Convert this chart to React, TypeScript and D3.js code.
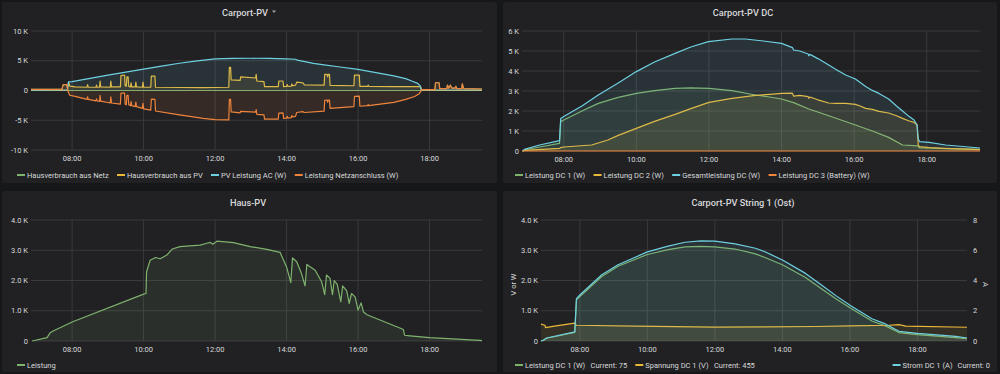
import React, { useEffect, useRef } from 'react';
import * as d3 from 'd3';

type Pt = [string, number];

// time axis shared by all panels
const timeStart = '06:51';
const timeEnd = '19:28';
const timeTicks = ['08:00', '10:00', '12:00', '14:00', '16:00', '18:00'];

// ---- Carport-PV ----
const hausverbrauchAusNetz: Pt[] = [
  ['06:51', 200], ['07:43', 200], ['07:45', 1000], ['07:51', 1000], ['07:53', 0], ['17:46', 0],
  ['17:48', 150], ['18:09', 150], ['18:10', 1300], ['18:16', 1300], ['18:17', 300], ['18:29', 300],
  ['18:30', 900], ['18:32', 400], ['18:35', 900], ['18:37', 400], ['18:43', 400], ['18:44', 700],
  ['18:46', 300], ['18:54', 300], ['18:55', 1100], ['18:57', 300], ['19:28', 250],
];

const hausverbrauchAusPv: Pt[] = [
  ['06:51', 0], ['07:52', 0], ['07:54', 1400], ['07:56', 750], ['08:05', 600], ['08:25', 550], ['08:26', 1000],
  ['08:27', 550], ['08:40', 550], ['08:41', 900], ['08:42', 550], ['08:46', 550], ['08:47', 1600], ['08:48', 600],
  ['09:04', 550], ['09:05', 1600], ['09:06', 600], ['09:21', 600], ['09:22', 2500], ['09:28', 2600], ['09:29', 800],
  ['09:31', 700], ['09:32', 2300], ['09:34', 2300], ['09:35', 700], ['09:38', 600], ['09:39', 1300], ['09:40', 600],
  ['09:46', 600], ['09:47', 1400], ['09:48', 600], ['09:58', 550], ['09:59', 1400], ['10:00', 550], ['10:12', 550],
  ['10:13', 2400], ['10:19', 2400], ['10:20', 550], ['11:00', 500], ['11:40', 500], ['12:23', 550], ['12:24', 3900],
  ['12:26', 3900], ['12:27', 1800], ['12:42', 1700], ['12:43', 2300], ['13:08', 2100], ['13:09', 2700], ['13:10', 1600],
  ['13:22', 1500], ['13:23', 650], ['13:46', 650], ['13:47', 1600], ['13:54', 1600], ['13:55', 650], ['14:00', 700],
  ['14:01', 1000], ['14:02', 700], ['14:08', 750], ['14:09', 1100], ['14:10', 800], ['14:15', 900], ['14:17', 1400],
  ['14:27', 1300], ['14:30', 950], ['15:03', 900], ['15:04', 2700], ['15:08', 2700], ['15:09', 2300], ['15:10', 2700],
  ['15:12', 2700], ['15:13', 850], ['15:53', 800], ['15:54', 2600], ['16:02', 2600], ['16:03', 700], ['16:16', 700],
  ['16:17', 900], ['16:18', 700], ['17:00', 650], ['17:45', 650], ['17:47', 0], ['19:28', 0],
];

const pvLeistungAc: Pt[] = [
  ['06:51', 50], ['07:52', 80], ['07:54', 1450], ['08:00', 1500], ['08:30', 2050], ['09:00', 2580], ['09:30', 3100],
  ['10:00', 3600], ['10:30', 4100], ['11:00', 4580], ['11:30', 4980], ['12:00', 5300], ['12:30', 5400],
  ['13:00', 5420], ['13:30', 5400], ['14:00', 5330], ['14:15', 5250], ['14:18', 5100], ['14:45', 4550],
  ['15:00', 4350], ['15:30', 3950], ['16:00', 3550], ['16:30', 3000], ['17:00', 2450], ['17:20', 2000],
  ['17:30', 1600], ['17:40', 1200], ['17:44', 800], ['17:46', 100], ['19:28', 80],
];

const leistungNetzanschluss: Pt[] = [
  ['06:51', 200], ['07:43', 200], ['07:45', 1000], ['07:51', 1000], ['07:53', -100], ['07:56', -800], ['08:05', -1000],
  ['08:25', -1500], ['08:26', -1050], ['08:27', -1500], ['08:40', -1750], ['08:41', -1400], ['08:42', -1750],
  ['08:46', -1850], ['08:47', -800], ['08:48', -1800], ['09:04', -2100], ['09:05', -1050], ['09:06', -2100],
  ['09:21', -2300], ['09:22', -450], ['09:28', -450], ['09:29', -2300], ['09:31', -2400], ['09:32', -800],
  ['09:34', -800], ['09:35', -2400], ['09:38', -2550], ['09:39', -1850], ['09:40', -2550], ['09:46', -2700],
  ['09:47', -1950], ['09:48', -2700], ['09:58', -3000], ['09:59', -2150], ['10:00', -3100], ['10:12', -3300],
  ['10:13', -1450], ['10:19', -1500], ['10:20', -3450], ['11:00', -4100], ['11:40', -4700], ['12:00', -4900],
  ['12:23', -4950], ['12:24', -1500], ['12:26', -1500], ['12:27', -3600], ['12:42', -3750], ['12:43', -3500],
  ['13:08', -3650], ['13:09', -3200], ['13:10', -4000], ['13:22', -4100], ['13:23', -4800], ['13:46', -4800],
  ['13:47', -3800], ['13:54', -3750], ['13:55', -4700], ['14:00', -4650], ['14:01', -4350], ['14:02', -4650],
  ['14:08', -4550], ['14:09', -4200], ['14:10', -4450], ['14:15', -4350], ['14:17', -3700], ['14:27', -3550],
  ['14:30', -3700], ['15:03', -3450], ['15:04', -1650], ['15:08', -1600], ['15:09', -2000], ['15:10', -1600],
  ['15:12', -1600], ['15:13', -3000], ['15:53', -2700], ['15:54', -1000], ['16:02', -950], ['16:03', -2650],
  ['16:16', -2550], ['16:17', -2350], ['16:18', -2550], ['17:00', -2000], ['17:20', -1500], ['17:35', -1000],
  ['17:42', -600], ['17:45', -200], ['17:47', 150], ['18:09', 150], ['18:10', 1300], ['18:16', 1300],
  ['18:17', 300], ['18:29', 300], ['18:30', 900], ['18:32', 400], ['18:35', 900], ['18:37', 400], ['18:43', 400],
  ['18:44', 700], ['18:46', 300], ['18:54', 300], ['18:55', 1100], ['18:57', 300], ['19:28', 250],
];

// ---- Carport-PV DC ----
const leistungDc1: Pt[] = [
  ['06:52', 0], ['06:55', 50], ['07:20', 200], ['07:53', 380], ['07:55', 1470], ['08:00', 1550], ['08:30', 2000],
  ['08:57', 2380], ['09:30', 2680], ['10:00', 2880], ['10:30', 3020], ['11:04', 3130], ['11:30', 3160],
  ['12:00', 3130], ['12:38', 3020], ['13:17', 2800], ['13:40', 2700], ['14:00', 2600], ['14:20', 2420],
  ['14:45', 2100], ['15:00', 1950], ['15:30', 1640], ['16:02', 1300], ['16:30', 1000], ['16:57', 680],
  ['17:20', 300], ['17:45', 260], ['17:48', 160], ['18:04', 150], ['18:31', 120], ['19:28', 80],
];

const leistungDc2: Pt[] = [
  ['06:52', 0], ['06:55', 30], ['07:53', 130], ['07:55', 170], ['08:00', 200], ['08:46', 300], ['09:13', 550],
  ['09:30', 780], ['10:00', 1130], ['10:30', 1480], ['11:04', 1830], ['11:30', 2120], ['12:00', 2430],
  ['12:38', 2630], ['13:17', 2780], ['13:40', 2830], ['14:00', 2880], ['14:18', 2890], ['14:20', 2740],
  ['14:30', 2780], ['14:44', 2720], ['14:45', 2640], ['14:47', 2700], ['15:00', 2560], ['15:18', 2400],
  ['15:30', 2380], ['15:46', 2380], ['16:02', 2330], ['16:10', 2250], ['16:19', 2130], ['16:30', 2080],
  ['16:41', 1980], ['16:57', 1900], ['17:10', 1760], ['17:20', 1630], ['17:31', 1500], ['17:39', 1430],
  ['17:44', 1300], ['17:46', 300], ['17:48', 220], ['18:04', 170], ['18:31', 130], ['19:28', 70],
];

const gesamtleistungDc: Pt[] = [
  ['06:52', 0], ['06:55', 80], ['07:20', 300], ['07:53', 520], ['07:55', 1630], ['08:00', 1720], ['08:30', 2250],
  ['08:57', 2800], ['09:30', 3400], ['10:00', 3970], ['10:30', 4450], ['11:04', 4880], ['11:30', 5200],
  ['11:59', 5470], ['12:38', 5600], ['13:00', 5600], ['13:30', 5500], ['14:00', 5380], ['14:18', 5170],
  ['14:20', 5050], ['14:30', 5000], ['14:44', 4850], ['14:45', 4760], ['14:47', 4830], ['15:00', 4620],
  ['15:18', 4300], ['15:30', 4080], ['15:46', 3800], ['16:02', 3600], ['16:10', 3420], ['16:19', 3220],
  ['16:30', 3030], ['16:41', 2880], ['16:57', 2600], ['17:10', 2250], ['17:20', 2000], ['17:31', 1720],
  ['17:39', 1550], ['17:44', 1300], ['17:46', 600], ['17:48', 470], ['18:04', 430], ['18:31', 300], ['19:28', 150],
];

const leistungDc3Battery: Pt[] = [['06:51', 0], ['19:28', 0]];

// ---- Haus-PV ----
const hausLeistung: Pt[] = [
  ['06:53', 0], ['07:18', 110], ['07:23', 270], ['07:29', 340], ['08:00', 630], ['10:00', 1550], ['10:04', 1570],
  ['10:05', 2290], ['10:11', 2670], ['10:20', 2760], ['10:28', 2720], ['10:39', 2840], ['10:48', 3040],
  ['11:01', 3120], ['11:35', 3170], ['11:46', 3230], ['11:52', 3260], ['11:56', 3200], ['12:03', 3300],
  ['12:31', 3250], ['12:59', 3120], ['13:27', 3030], ['13:49', 2930], ['14:00', 2450], ['14:07', 1930],
  ['14:10', 2750], ['14:17', 2620], ['14:25', 2230], ['14:31', 1820], ['14:34', 2530], ['14:48', 2340],
  ['14:59', 1950], ['15:04', 1530], ['15:07', 2180], ['15:13', 2070], ['15:17', 1530], ['15:20', 2000],
  ['15:25', 1870], ['15:31', 1290], ['15:34', 1820], ['15:41', 1660], ['15:45', 1240], ['15:49', 1570],
  ['15:55', 1460], ['16:00', 1020], ['16:05', 1260], ['16:09', 960], ['16:15', 870], ['17:10', 430],
  ['17:16', 380], ['17:18', 190], ['17:27', 170], ['18:00', 110], ['19:24', 20], ['19:28', 15],
];

// ---- Carport-PV String 1 (Ost) ----
const stringLeistung: Pt[] = [
  ['06:51', 0], ['06:55', 20], ['07:01', 90], ['07:51', 280], ['07:54', 1360], ['08:00', 1470], ['08:39', 2130],
  ['09:08', 2470], ['10:00', 2860], ['10:37', 3020], ['11:07', 3110], ['11:35', 3130], ['12:00', 3110],
  ['12:36', 3040], ['13:12', 2880], ['13:29', 2760], ['14:00', 2520], ['14:41', 2100], ['15:10', 1720],
  ['15:35', 1400], ['16:00', 1100], ['16:39', 660], ['17:03', 500], ['17:27', 280], ['18:00', 210],
  ['19:08', 110], ['19:28', 75],
];

const stringSpannung: Pt[] = [
  ['06:51', 560], ['06:58', 520], ['06:59', 440], ['07:15', 490], ['07:51', 590], ['07:54', 520], ['09:38', 490],
  ['12:00', 460], ['13:29', 470], ['15:00', 480], ['16:00', 500], ['17:09', 520], ['17:27', 540], ['17:39', 490],
  ['19:28', 455],
];

const stringStrom: Pt[] = [
  ['06:51', 0], ['06:55', 0.05], ['07:01', 0.2], ['07:51', 0.6], ['07:54', 2.8], ['08:00', 3.04], ['08:39', 4.38],
  ['09:08', 5.04], ['10:00', 5.89], ['10:37', 6.27], ['11:07', 6.53], ['11:35', 6.62], ['12:00', 6.6],
  ['12:36', 6.42], ['13:12', 6.13], ['13:29', 5.9], ['14:00', 5.36], ['14:41', 4.47], ['15:10', 3.69],
  ['15:35', 3.0], ['16:00', 2.36], ['16:39', 1.47], ['17:03', 1.13], ['17:27', 0.64], ['18:00', 0.51],
  ['19:08', 0.31], ['19:28', 0.2],
];

const C = { green: '#7eb26d', yellow: '#eab839', cyan: '#6ed0e0', orange: '#ef843c' };
const TEXT = '#d8d9da';
const GRID = '#3a3a3d';

interface Series {
  name: string;
  data: Pt[];
  color: string;
  right?: boolean;
  current?: string;
  legendRight?: boolean;
}

interface Panel {
  box: [number, number, number, number];
  title: string;
  titleX: number;
  titleY: number;
  caret?: boolean;
  plot: { left: number; right: number; top: number; bottom: number };
  yDomain: [number, number];
  yTicks: number[];
  yFormat: (v: number) => string;
  yLabel?: string;
  y2?: { domain: [number, number]; ticks: number[]; label: string };
  series: Series[];
  legendX: number;
  legendY: number;
}

const kFmt = (v: number) => (v === 0 ? '0' : `${v / 1000} K`);
const kFmt1 = (v: number) => (v === 0 ? '0' : `${(v / 1000).toFixed(1)} K`);

const panels: Panel[] = [
  {
    box: [2, 2, 495, 181], title: 'Carport-PV', titleX: 245, titleY: 12, caret: true,
    plot: { left: 31, right: 482, top: 31, bottom: 150 },
    yDomain: [-10000, 10000], yTicks: [-10000, -5000, 0, 5000, 10000], yFormat: kFmt,
    series: [
      { name: 'Hausverbrauch aus Netz', data: hausverbrauchAusNetz, color: C.green },
      { name: 'Hausverbrauch aus PV', data: hausverbrauchAusPv, color: C.yellow },
      { name: 'PV Leistung AC (W)', data: pvLeistungAc, color: C.cyan },
      { name: 'Leistung Netzanschluss (W)', data: leistungNetzanschluss, color: C.orange },
    ],
    legendX: 17, legendY: 175,
  },
  {
    box: [503, 2, 494, 181], title: 'Carport-PV DC', titleX: 743, titleY: 12,
    plot: { left: 522, right: 980, top: 31, bottom: 151 },
    yDomain: [0, 6000], yTicks: [0, 1000, 2000, 3000, 4000, 5000, 6000], yFormat: kFmt,
    series: [
      { name: 'Leistung DC 1 (W)', data: leistungDc1, color: C.green },
      { name: 'Leistung DC 2 (W)', data: leistungDc2, color: C.yellow },
      { name: 'Gesamtleistung DC (W)', data: gesamtleistungDc, color: C.cyan },
      { name: 'Leistung DC 3 (Battery) (W)', data: leistungDc3Battery, color: C.orange },
    ],
    legendX: 515, legendY: 175,
  },
  {
    box: [2, 191, 495, 181], title: 'Haus-PV', titleX: 248, titleY: 202,
    plot: { left: 31, right: 482, top: 220, bottom: 341 },
    yDomain: [0, 4000], yTicks: [0, 1000, 2000, 3000, 4000], yFormat: kFmt1,
    series: [{ name: 'Leistung', data: hausLeistung, color: C.green }],
    legendX: 17, legendY: 365,
  },
  {
    box: [503, 191, 494, 181], title: 'Carport-PV String 1 (Ost)', titleX: 743, titleY: 202,
    plot: { left: 541, right: 967, top: 220, bottom: 341 },
    yDomain: [0, 4000], yTicks: [0, 1000, 2000, 3000, 4000], yFormat: kFmt1,
    yLabel: 'V or W',
    y2: { domain: [0, 8], ticks: [0, 2, 4, 6, 8], label: 'A' },
    series: [
      { name: 'Leistung DC 1 (W)', data: stringLeistung, color: C.green, current: '75' },
      { name: 'Spannung DC 1 (V)', data: stringSpannung, color: C.yellow, current: '455' },
      { name: 'Strom DC 1 (A)', data: stringStrom, color: C.cyan, right: true, current: '0', legendRight: true },
    ],
    legendX: 515, legendY: 365,
  },
];

const parseTime = d3.timeParse('%H:%M');
const tp = (s: string) => parseTime(s) as Date;

const App: React.FC = () => {
  const svgRef = useRef<SVGSVGElement>(null);

  useEffect(() => {
    if (!svgRef.current) return;
    const svg = d3.select(svgRef.current);
    svg.selectAll('*').remove();

    svg.append('rect').attr('width', 1000).attr('height', 374).attr('fill', '#161719');

    panels.forEach((p) => {
      const g = svg.append('g').attr('font-family', 'Roboto, sans-serif');
      const [bx, by, bw, bh] = p.box;
      g.append('rect').attr('x', bx).attr('y', by).attr('width', bw).attr('height', bh)
        .attr('rx', 2).attr('fill', '#212124');

      // title
      g.append('text').attr('x', p.titleX).attr('y', p.titleY).attr('text-anchor', 'middle')
        .attr('dominant-baseline', 'central').attr('font-size', 9.2).attr('font-weight', 500)
        .attr('fill', TEXT).text(p.title);
      if (p.caret) {
        g.append('path').attr('d', `M${p.titleX + 27},${p.titleY - 1.5}l4,0l-2,2.5z`).attr('fill', '#9fa0a3');
      }

      const { left, right, top, bottom } = p.plot;
      const x = d3.scaleTime().domain([tp(timeStart), tp(timeEnd)]).range([left, right]);
      const y = d3.scaleLinear().domain(p.yDomain).range([bottom, top]);
      const y2 = p.y2 ? d3.scaleLinear().domain(p.y2.domain).range([bottom, top]) : null;

      // grid
      g.append('g').selectAll('line').data(p.yTicks).enter().append('line')
        .attr('x1', left).attr('x2', right).attr('y1', (d) => y(d)).attr('y2', (d) => y(d))
        .attr('stroke', GRID).attr('stroke-width', 1);
      g.append('g').selectAll('line').data(timeTicks).enter().append('line')
        .attr('x1', (d) => x(tp(d))).attr('x2', (d) => x(tp(d))).attr('y1', top).attr('y2', bottom)
        .attr('stroke', GRID).attr('stroke-width', 1);

      // tick labels
      g.append('g').selectAll('text').data(p.yTicks).enter().append('text')
        .attr('x', left - 3).attr('y', (d) => y(d)).attr('text-anchor', 'end')
        .attr('dominant-baseline', 'central').attr('font-size', 7.5).attr('fill', TEXT)
        .text((d) => p.yFormat(d));
      g.append('g').selectAll('text').data(timeTicks).enter().append('text')
        .attr('x', (d) => x(tp(d))).attr('y', bottom + 8).attr('text-anchor', 'middle')
        .attr('dominant-baseline', 'central').attr('font-size', 7.5).attr('fill', TEXT)
        .text((d) => d);

      if (p.y2 && y2) {
        g.append('g').selectAll('text').data(p.y2.ticks).enter().append('text')
          .attr('x', right + 6).attr('y', (d) => y2(d)).attr('text-anchor', 'start')
          .attr('dominant-baseline', 'central').attr('font-size', 7.5).attr('fill', TEXT)
          .text((d) => String(d));
        g.append('text').attr('transform', `translate(${right + 18},${(top + bottom) / 2 + 4}) rotate(90)`)
          .attr('text-anchor', 'middle').attr('dominant-baseline', 'central')
          .attr('font-size', 7.5).attr('fill', TEXT).text(p.y2.label);
      }
      if (p.yLabel) {
        g.append('text').attr('transform', `translate(${bx + 10},${(top + bottom) / 2 + 4}) rotate(-90)`)
          .attr('text-anchor', 'middle').attr('dominant-baseline', 'central')
          .attr('font-size', 7.5).attr('fill', TEXT).text(p.yLabel);
      }

      // series
      p.series.forEach((s) => {
        const ys = s.right && y2 ? y2 : y;
        const area = d3.area<Pt>().x((d) => x(tp(d[0]))).y0(ys(0)).y1((d) => ys(d[1]));
        const line = d3.line<Pt>().x((d) => x(tp(d[0]))).y((d) => ys(d[1]));
        g.append('path').datum(s.data).attr('d', area).attr('fill', s.color).attr('fill-opacity', 0.1);
        g.append('path').datum(s.data).attr('d', line).attr('fill', 'none')
          .attr('stroke', s.color).attr('stroke-width', 1.2).attr('stroke-linejoin', 'round');
      });

      // legend
      const legendText = (tx: number, anchor: string, str: string) =>
        g.append('text').attr('x', tx).attr('y', p.legendY).attr('text-anchor', anchor)
          .attr('dominant-baseline', 'central').attr('font-size', 7.5).attr('fill', TEXT).text(str);
      const textBox = (sel: d3.Selection<SVGTextElement, unknown, null, undefined>) =>
        (sel.node() as SVGTextElement).getBBox();

      let lx = p.legendX;
      p.series.forEach((s) => {
        if (s.legendRight) {
          let endX = bx + bw - 7;
          if (s.current !== undefined) {
            const cur = legendText(endX, 'end', `Current: ${s.current}`);
            endX = textBox(cur).x - 5;
          }
          const nm = legendText(endX, 'end', s.name);
          g.append('rect').attr('x', textBox(nm).x - 10).attr('y', p.legendY - 1)
            .attr('width', 8).attr('height', 2).attr('fill', s.color);
        } else {
          g.append('rect').attr('x', lx).attr('y', p.legendY - 1).attr('width', 8).attr('height', 2)
            .attr('fill', s.color);
          const nm = legendText(lx + 10, 'start', s.name);
          let bb = textBox(nm);
          if (s.current !== undefined) {
            const cur = legendText(bb.x + bb.width + 5, 'start', `Current: ${s.current}`);
            bb = textBox(cur);
          }
          lx = bb.x + bb.width + 8;
        }
      });
    });
  }, []);

  return (
    <div style={{ position: 'absolute', left: 0, top: 0 }}>
      <svg ref={svgRef} width={1000} height={374} style={{ display: 'block' }} />
    </div>
  );
};

export default App;
